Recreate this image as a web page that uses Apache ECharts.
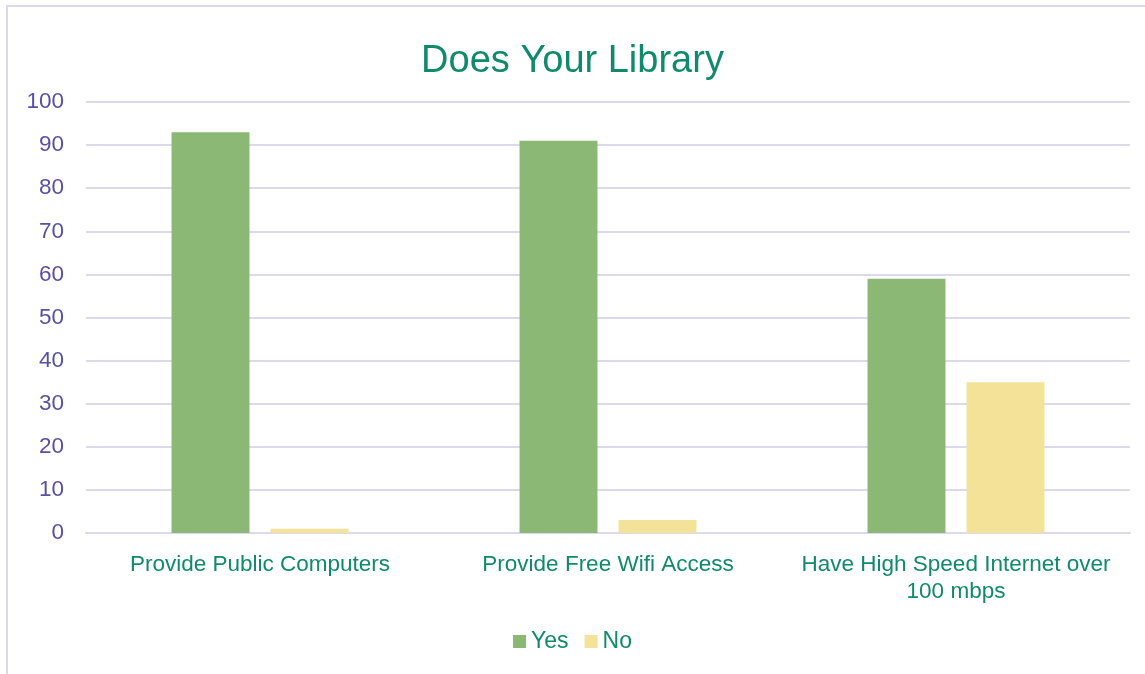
<!DOCTYPE html>
<html>
<head>
<meta charset="utf-8">
<style>
  html, body { margin: 0; padding: 0; background: #fff; }
  #main { width: 1145px; height: 674px; }
</style>
<script src="https://cdn.jsdelivr.net/npm/echarts@6/dist/echarts.min.js"></script>
</head>
<body>
<div id="main"></div>
<script>
// data
const categories = ['Provide Public Computers', 'Provide Free Wifi Access', 'Have High Speed Internet over\n100 mbps']
const yesValues = [93, 91, 59]
const noValues = [1, 3, 35]
const seriesNames = ['Yes', 'No']

const green = '#0f8a6c'
const purple = '#5b4fa3'
const gridColor = '#dcd9ec'

const chart = echarts.init(document.getElementById('main'))

chart.setOption({
  animation: false,
  textStyle: { fontFamily: 'Liberation Sans, Arial, sans-serif' },
  title: {
    text: 'Does Your Library',
    left: 'center',
    top: 38,
    textStyle: { color: green, fontSize: 38, fontWeight: 'normal' }
  },
  graphic: [{
    type: 'rect',
    shape: { x: 7, y: 6, width: 1150, height: 680 },
    style: { fill: 'none', stroke: gridColor, lineWidth: 2 },
    silent: true
  }],
  legend: {
    data: seriesNames,
    bottom: 16,
    left: 'center',
    itemWidth: 13,
    itemHeight: 13,
    itemGap: 16,
    icon: 'rect',
    textStyle: { color: green, fontSize: 23 }
  },
  grid: { left: 86, right: 15, top: 102, bottom: 141, containLabel: false },
  xAxis: {
    type: 'category',
    data: categories,
    axisTick: { show: false },
    axisLine: { lineStyle: { color: gridColor, width: 2 } },
    axisLabel: { color: green, fontSize: 22.5, margin: 18, lineHeight: 27, interval: 0 }
  },
  yAxis: {
    type: 'value',
    min: 0,
    max: 100,
    interval: 10,
    axisLine: { show: false },
    axisTick: { show: false },
    splitLine: { lineStyle: { color: gridColor, width: 2 } },
    axisLabel: { color: purple, fontSize: 22.5, margin: 22 }
  },
  series: [
    {
      name: seriesNames[0],
      type: 'bar',
      data: yesValues,
      barWidth: '22.4%',
      barGap: '27%',
      itemStyle: { color: '#8cb876' }
    },
    {
      name: seriesNames[1],
      type: 'bar',
      data: noValues,
      barWidth: '22.4%',
      itemStyle: { color: '#f4e298' }
    }
  ]
})
</script>
</body>
</html>
